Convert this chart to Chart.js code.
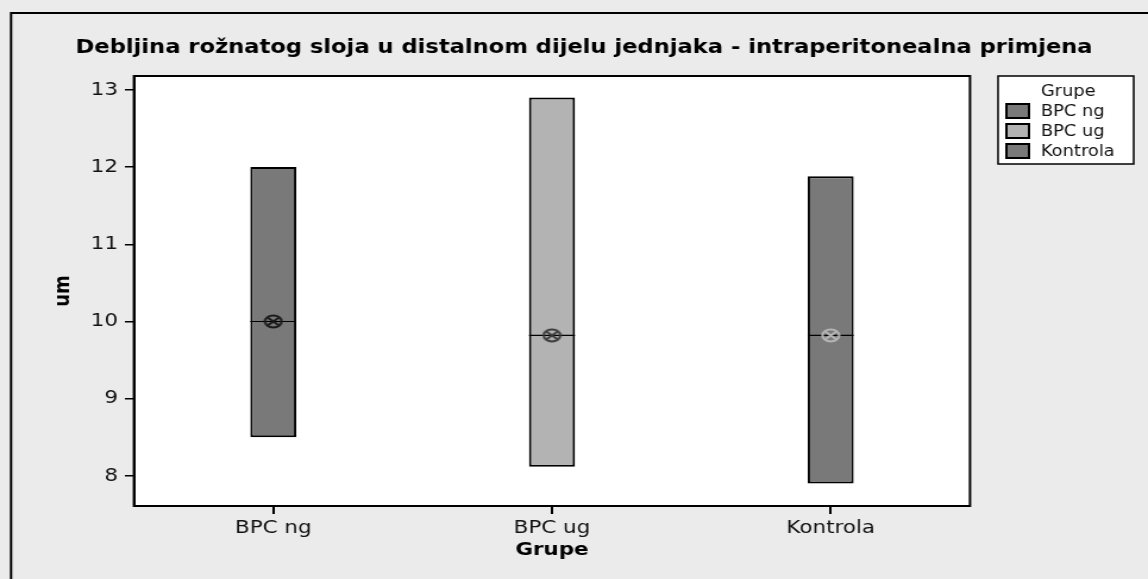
<!DOCTYPE html>
<html>
<head>
<meta charset="utf-8">
<script src="https://cdn.jsdelivr.net/npm/chart.js@4.4.1/dist/chart.umd.min.js"></script>
<style>
    html, body { margin: 0; padding: 0; background: #ebebeb; overflow: hidden; }
    /* the original export is stretched sideways; draw narrower and widen */
    #wrap { width: 965px; height: 579px; transform: scaleX(1.1896); transform-origin: 0 0; }
</style>
</head>
<body>
<div id="wrap"><canvas id="chart" width="965" height="579"></canvas></div>
<script>
const categories = ['BPC ng', 'BPC ug', 'Kontrola'];
const minValues = [8.5, 8.12, 7.9];
const maxValues = [12.0, 12.9, 11.88];
const medianValues = [10.0, 9.82, 9.82];
const meanValues = [10.0, 9.82, 9.82];
const yTicks = [8, 9, 10, 11, 12, 13];

const titleText = 'Debljina rožnatog sloja u distalnom dijelu jednjaka - intraperitonealna primjena';
const barColors = ['#797979', '#b3b3b3', '#797979'];
const meanColors = ['#1a1a1a', '#3a3a3a', '#b8b8b8'];

// mean marker: circle with an x inside
function meanMarker(color) {
    const c = document.createElement('canvas');
    c.width = 17;
    c.height = 15;
    const g = c.getContext('2d');
    g.strokeStyle = color;
    g.lineWidth = 2;
    g.beginPath();
    g.ellipse(8.5, 7.5, 7, 5.9, 0, 0, Math.PI * 2);
    g.stroke();
    g.beginPath();
    g.moveTo(4, 3.8); g.lineTo(13, 11.2);
    g.moveTo(13, 3.8); g.lineTo(4, 11.2);
    g.stroke();
    return c;
}

const framePlugin = {
    id: 'frame',
    beforeDraw(chart) {
        const { ctx, chartArea: a } = chart;
        ctx.save();
        ctx.fillStyle = '#ebebeb';
        ctx.fillRect(0, 0, chart.width, chart.height);
        ctx.strokeStyle = '#000';
        ctx.lineWidth = 2;
        ctx.beginPath();
        ctx.moveTo(9.3, chart.height);
        ctx.lineTo(9.3, 13);
        ctx.lineTo(chart.width, 13);
        ctx.stroke();
        ctx.fillStyle = '#fff';
        ctx.fillRect(a.left, a.top, a.right - a.left, a.bottom - a.top);
        ctx.restore();
    },
    afterDraw(chart) {
        const { ctx, chartArea: a } = chart;
        ctx.save();
        ctx.strokeStyle = '#000';
        ctx.lineWidth = 2;
        ctx.strokeRect(a.left, a.top, a.right - a.left, a.bottom - a.top);

        ctx.fillStyle = '#000';
        ctx.font = 'bold 19px "DejaVu Sans"';
        ctx.textAlign = 'center';
        ctx.textBaseline = 'middle';
        ctx.fillText(titleText, 491, 48);

        // legend box
        const lx = 839, ly = 76, lw = 114, lh = 88;
        ctx.fillStyle = '#fff';
        ctx.fillRect(lx, ly, lw, lh);
        ctx.lineWidth = 1.5;
        ctx.strokeRect(lx, ly, lw, lh);
        ctx.fillStyle = '#111';
        ctx.font = '15px "DejaVu Sans"';
        ctx.fillText('Grupe', lx + lw / 2 + 2, ly + 16);
        ctx.textAlign = 'left';
        categories.forEach((name, i) => {
            const y = ly + 35 + i * 20;
            ctx.fillStyle = barColors[i];
            ctx.fillRect(lx + 7, y - 7, 19, 14);
            ctx.strokeStyle = '#000';
            ctx.lineWidth = 2;
            ctx.strokeRect(lx + 7, y - 7, 19, 14);
            ctx.fillStyle = '#111';
            ctx.fillText(name, lx + 36, y + 1);
        });
        ctx.restore();
    }
};

const axisFont = { family: '"DejaVu Sans"', size: 18 };

new Chart(document.getElementById('chart'), {
    data: {
        labels: categories,
        datasets: [
            {
                type: 'bar',
                data: categories.map((_, i) => [minValues[i], maxValues[i]]),
                backgroundColor: barColors,
                borderColor: '#000',
                borderWidth: 2,
                borderSkipped: false,
                barPercentage: 0.165,
                categoryPercentage: 1,
                order: 3,
            },
            {
                type: 'line',
                data: medianValues,
                showLine: false,
                pointStyle: 'line',
                pointRadius: 19.3,
                pointBorderColor: '#000',
                pointBorderWidth: 1.2,
                order: 2,
            },
            {
                type: 'line',
                data: meanValues,
                showLine: false,
                pointStyle: meanColors.map(meanMarker),
                pointRadius: 9,
                order: 1,
            },
        ],
    },
    options: {
        responsive: false,
        animation: false,
        layout: { padding: { left: 0, right: 149.6, top: 76, bottom: 0 } },
        plugins: {
            legend: { display: false },
            tooltip: { enabled: false },
            title: { display: false },
        },
        scales: {
            x: {
                type: 'category',
                offset: true,
                afterFit: (scale) => { scale.height = 73; },
                grid: { offset: false, drawOnChartArea: false, drawTicks: true, tickLength: 8, color: '#000', lineWidth: 2 },
                border: { color: '#000', width: 2 },
                ticks: { color: '#111', font: axisFont, padding: 4 },
                title: {
                    display: true,
                    text: 'Grupe',
                    color: '#000',
                    font: { family: '"DejaVu Sans"', size: 18, weight: 'bold' },
                    padding: { top: 0, bottom: 18 },
                },
            },
            y: {
                min: 7.61,
                max: 13.18,
                afterFit: (scale) => { scale.width = 112.6; },
                afterBuildTicks: (scale) => { scale.ticks = yTicks.map((v) => ({ value: v })); },
                grid: { drawOnChartArea: false, drawTicks: true, tickLength: 7.6, color: '#000', lineWidth: 1.5 },
                border: { color: '#000', width: 2 },
                ticks: { color: '#111', font: axisFont, padding: 5.9 },
                title: {
                    display: true,
                    text: 'um',
                    color: '#000',
                    font: { family: '"DejaVu Sans"', size: 18, weight: 'bold' },
                    padding: { top: 43, bottom: 0 },
                },
            },
        },
    },
    plugins: [framePlugin],
});
</script>
</body>
</html>
